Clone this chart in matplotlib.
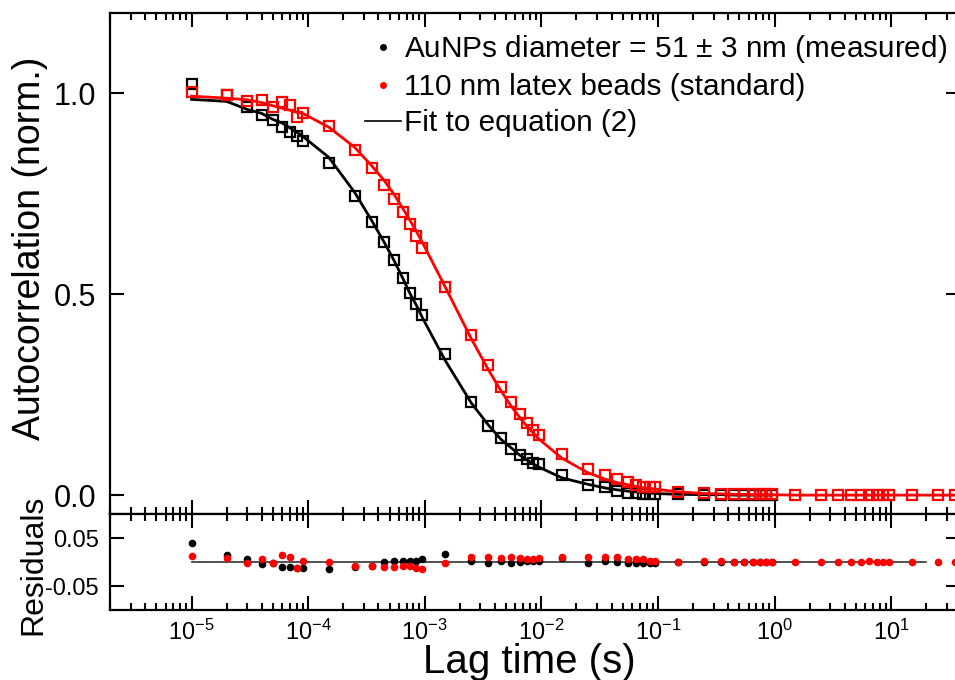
import matplotlib
matplotlib.use("Agg")
import matplotlib.pyplot as plt
from matplotlib.lines import Line2D
from matplotlib.ticker import LogLocator, NullFormatter, FixedLocator

plt.rcParams.update({
    "font.family": ["Liberation Sans", "DejaVu Sans"],
    "mathtext.fontset": "custom",
    "mathtext.rm": "Liberation Sans",
    "mathtext.it": "Liberation Sans:italic",
    "mathtext.bf": "Liberation Sans:bold",
    "axes.unicode_minus": False,
    "axes.linewidth": 1.6,
})

# ── data ────────────────────────────────────────────────────────────────────
LAG = [1e-5, 2e-5, 3e-5, 4e-5, 5e-5, 6e-5, 7e-5, 8e-5, 9e-5,
       1.5e-4, 2.5e-4, 3.5e-4, 4.5e-4, 5.5e-4, 6.5e-4, 7.5e-4, 8.5e-4, 9.5e-4,
       1.5e-3, 2.5e-3, 3.5e-3, 4.5e-3, 5.5e-3, 6.5e-3, 7.5e-3, 8.5e-3, 9.5e-3,
       1.5e-2, 2.5e-2, 3.5e-2, 4.5e-2, 5.5e-2, 6.5e-2, 7.5e-2, 8.5e-2, 9.5e-2,
       0.15, 0.25, 0.35, 0.45, 0.55, 0.65, 0.75, 0.85, 0.95,
       1.5, 2.5, 3.5, 4.5, 5.5, 6.5, 7.5, 8.5, 9.5,
       15, 25, 35]
N_AU = 45  # AuNP data stop at 0.95 s

au_g = [1.024, 0.995, 0.966, 0.945, 0.933, 0.916, 0.904, 0.893, 0.881,
        0.827, 0.745, 0.680, 0.629, 0.584, 0.541, 0.504, 0.475, 0.449,
        0.352, 0.232, 0.172, 0.141, 0.116, 0.100, 0.091, 0.079, 0.077,
        0.051, 0.024, 0.021, 0.011, 0.006, 0.005, 0.004, 0.003, 0.003,
        0.002, 0.001, 0.001, 0.000, 0.000, 0.000, 0.000, 0.000, 0.000]
au_fit = [0.985, 0.980, 0.960, 0.950, 0.935, 0.926, 0.914, 0.903, 0.893,
          0.841, 0.754, 0.684, 0.629, 0.582, 0.539, 0.501, 0.472, 0.443,
          0.335, 0.230, 0.175, 0.139, 0.118, 0.100, 0.088, 0.078, 0.070,
          0.043, 0.027, 0.018, 0.013, 0.010, 0.008, 0.006, 0.005, 0.004,
          0.002, 0.001, 0.001, 0.000, 0.000, 0.000, 0.000, 0.000, 0.000]
au_res = [0.040, 0.015, 0.007, -0.005, -0.002, -0.010, -0.010, -0.012, -0.0125,
          -0.014, -0.010, -0.008, 0.000, 0.002, 0.002, 0.003, 0.003, 0.006,
          0.017, 0.002, -0.003, 0.002, -0.002, 0.000, 0.003, 0.002, 0.003,
          0.008, -0.003, 0.002, 0.000, -0.002, -0.002, -0.003, -0.002, -0.001,
          0.000, 0.000, 0.000, 0.000, 0.000, 0.000, 0.000, 0.000, 0.000]

latex_g = [1.003, 0.997, 0.981, 0.983, 0.966, 0.978, 0.970, 0.941, 0.952,
           0.918, 0.860, 0.815, 0.773, 0.737, 0.705, 0.675, 0.644, 0.615,
           0.517, 0.399, 0.323, 0.269, 0.232, 0.203, 0.180, 0.163, 0.149,
           0.102, 0.066, 0.050, 0.041, 0.033, 0.025, 0.021, 0.019, 0.019,
           0.008, 0.005, 0.004, 0.003, 0.002, 0.002, 0.002, 0.002, 0.002,
           0.001, 0.001, 0.000, 0.000, 0.000, 0.000, 0.000, 0.000, 0.000,
           0.000, 0.000, 0.000]
latex_fit = [0.993, 0.988, 0.984, 0.977, 0.969, 0.963, 0.958, 0.953, 0.950,
             0.916, 0.866, 0.820, 0.783, 0.747, 0.713, 0.683, 0.656, 0.630,
             0.518, 0.390, 0.313, 0.260, 0.222, 0.194, 0.172, 0.155, 0.140,
             0.092, 0.056, 0.040, 0.031, 0.026, 0.021, 0.018, 0.016, 0.015,
             0.008, 0.004, 0.003, 0.002, 0.002, 0.001, 0.001, 0.001, 0.001,
             0.000, 0.000, 0.000, 0.000, 0.000, 0.000, 0.000, 0.000, 0.000,
             0.000, 0.000, 0.000]
latex_res = [0.012, 0.009, -0.003, 0.007, -0.002, 0.015, 0.010, -0.012, 0.002,
             0.001, -0.009, -0.008, -0.010, -0.010, -0.008, -0.008, -0.0125, -0.015,
             -0.001, 0.010, 0.010, 0.009, 0.010, 0.009, 0.006, 0.007, 0.009,
             0.010, 0.010, 0.010, 0.010, 0.007, 0.007, 0.006, 0.002, 0.002,
             0.000, 0.002, 0.002, 0.000, 0.000, 0.000, 0.001, 0.001, 0.001,
             0.000, 0.000, 0.000, 0.000, 0.000, 0.002, 0.000, 0.000, 0.000,
             0.000, 0.000, 0.000]

ZERO_X = [1e-5, 20]
ZERO_Y = [0, 0]

RED = "#ff0000"
BLACK = "#000000"

fig = plt.figure(figsize=(9.55, 6.8), dpi=100)
ax = fig.add_axes([0.1152, 0.2441, 0.8901, 0.7368])
axr = fig.add_axes([0.1152, 0.1029, 0.8901, 0.1412], sharex=ax)

sq = dict(marker="s", ms=6.5, mfc="none", mew=1.6, ls="none")
ax.plot(LAG[:N_AU], au_fit, color=BLACK, lw=2.0)
ax.plot(LAG[:N_AU], au_g, color=BLACK, **sq)
ax.plot(LAG, latex_fit, color=RED, lw=2.0)
ax.plot(LAG, latex_g, color=RED, **sq)

axr.plot(ZERO_X, ZERO_Y, color="#333333", lw=1.2)
axr.plot(LAG[:N_AU], au_res, "o", color=BLACK, ms=5.5, mew=0)
axr.plot(LAG, latex_res, "o", color=RED, ms=5.5, mew=0)

ax.set_xscale("log")
ax.set_xlim(2e-6, 39)
ax.set_ylim(-0.047, 1.2)
axr.set_ylim(-0.1, 0.1)

for a in (ax, axr):
    a.xaxis.set_major_locator(LogLocator(base=10, numticks=20))
    a.xaxis.set_minor_locator(LogLocator(base=10, subs=range(2, 10), numticks=20))
    a.tick_params(which="both", direction="in", top=True, right=True, width=1.5)
    a.tick_params(which="major", length=10)
    a.tick_params(which="minor", length=5)

ax.yaxis.set_major_locator(FixedLocator([0.0, 0.5, 1.0]))
ax.set_yticklabels(["0.0", "0.5", "1.0"])
ax.tick_params(axis="x", labelbottom=False)
ax.tick_params(axis="y", labelsize=22, pad=10)
ax.yaxis.set_minor_formatter(NullFormatter())

axr.yaxis.set_major_locator(FixedLocator([-0.05, 0.05]))
axr.set_yticklabels(["-0.05", "0.05"])
axr.tick_params(axis="y", labelsize=17, pad=8)
axr.tick_params(axis="x", labelsize=17, pad=7)

ax.set_ylabel("Autocorrelation (norm.)", fontsize=27)
axr.set_ylabel("Residuals", fontsize=23)
ax.yaxis.set_label_coords(-0.073, 0.53)
axr.yaxis.set_label_coords(-0.073, 0.47)
axr.set_xlabel("Lag time (s)", fontsize=29)
axr.xaxis.set_label_coords(0.493, -0.345)

handles = [
    Line2D([], [], color=BLACK, marker=".", ms=8, ls="none"),
    Line2D([], [], color=RED, marker=".", ms=8, ls="none"),
    Line2D([], [], color=BLACK, lw=1.2),
]
labels = ["AuNPs diameter = 51 $\\pm$ 3 nm (measured)",
          "110 nm latex beads (standard)",
          "Fit to equation (2)"]
ax.legend(handles, labels, loc="upper left", bbox_to_anchor=(0.276, 1.001),
          frameon=False, fontsize=21.4, handlelength=1.2, handletextpad=0.1,
          labelspacing=0.27, borderpad=0.2)

fig.savefig("out.png", dpi=100)
